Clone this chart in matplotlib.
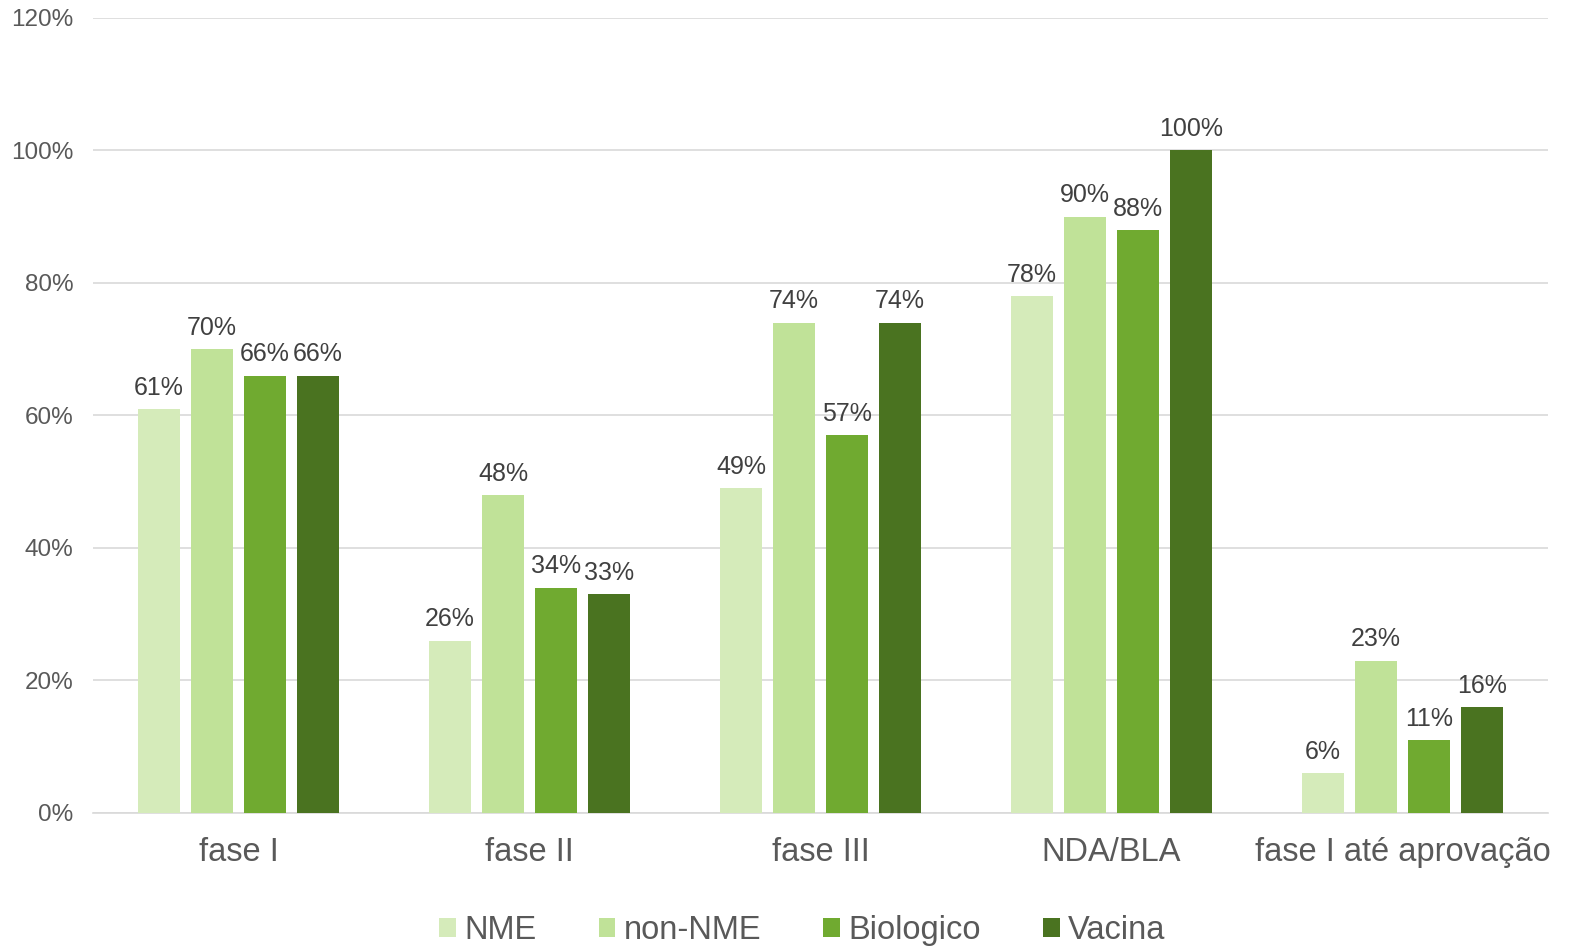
import numpy as np
import matplotlib.pyplot as plt
from matplotlib.ticker import PercentFormatter

plt.rcParams['font.family'] = ['Liberation Sans', 'DejaVu Sans']

# Dados
fases = ["fase I", "fase II", "fase III", "NDA/BLA", "fase I até aprovação"]
series = ["NME", "non-NME", "Biologico", "Vacina"]
nme = [61, 26, 49, 78, 6]
non_nme = [70, 48, 74, 90, 23]
biologico = [66, 34, 57, 88, 11]
vacina = [66, 33, 74, 100, 16]
cores = ["#D5EBBA", "#C0E298", "#70AA30", "#4A7320"]

fig = plt.figure(figsize=(15.7, 9.46), dpi=100)
ax = fig.add_axes([0.0592, 0.1406, 0.9268, 0.8404])

x = np.arange(len(fases))
largura = 0.144
passo = 0.182
for i, (nome, vals) in enumerate(zip(series, [nme, non_nme, biologico, vacina])):
    pos = x + (i - 1.5) * passo
    barras = ax.bar(pos, vals, largura, color=cores[i], label=nome, zorder=3)
    for b, v in zip(barras, vals):
        ax.text(b.get_x() + b.get_width() / 2, v + 1.4, f"{v}%", ha="center", va="bottom",
                fontsize=18, color="#404040")

ax.set_xlim(-0.5, len(fases) - 0.5)
ax.set_ylim(0, 120)
ax.set_yticks(range(0, 121, 20))
ax.yaxis.set_major_formatter(PercentFormatter(decimals=0))
ax.set_xticks(x)
ax.set_xticklabels(fases, fontsize=23.5, color="#595959")
ax.tick_params(axis="y", labelsize=17.5, labelcolor="#595959", length=0, pad=14)
ax.tick_params(axis="x", length=0, pad=17)
ax.grid(axis="y", color="#D9D9D9", linewidth=1.2, zorder=0)
for s in ["top", "right", "left"]:
    ax.spines[s].set_visible(False)
ax.spines["bottom"].set_color("#D9D9D9")
ax.spines["bottom"].set_linewidth(1.2)

leg = fig.legend(loc="lower center", ncol=4, frameon=False, fontsize=23.5,
                 bbox_to_anchor=(0.511, -0.031), handlelength=0.52, handleheight=0.52,
                 handletextpad=0.25, columnspacing=1.9)
for t in leg.get_texts():
    t.set_color("#595959")

fig.savefig("out.png", dpi=100)
